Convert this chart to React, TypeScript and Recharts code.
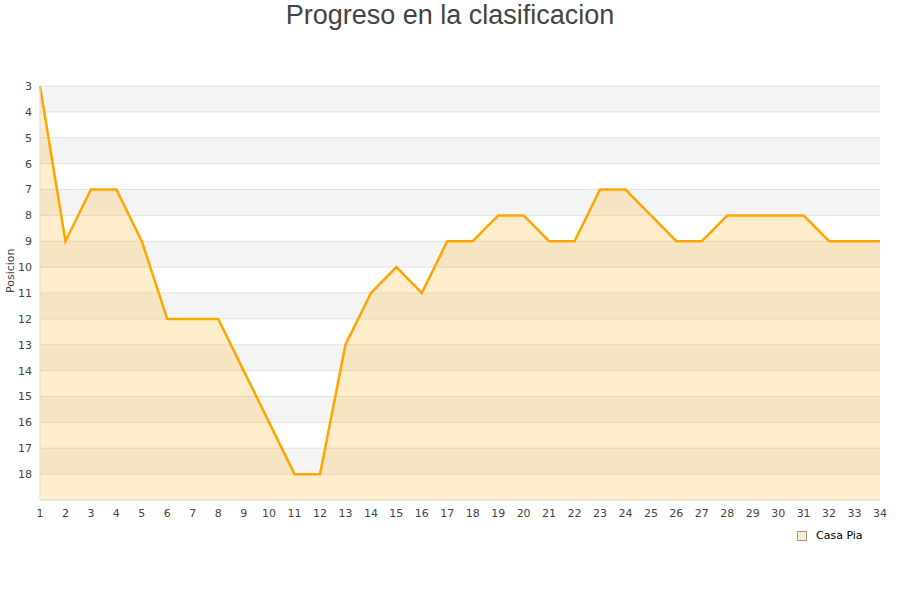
import React from 'react'
import { AreaChart, Area, XAxis, YAxis, CartesianGrid } from 'recharts'

// Posición por jornada
const jornadas = [
  1, 2, 3, 4, 5, 6, 7, 8, 9, 10, 11, 12, 13, 14, 15, 16, 17,
  18, 19, 20, 21, 22, 23, 24, 25, 26, 27, 28, 29, 30, 31, 32, 33, 34,
]
const casaPia = [
  3, 9, 7, 7, 9, 12, 12, 12, 14, 16, 18, 18, 13, 11, 10, 11, 9,
  9, 8, 8, 9, 9, 7, 7, 8, 9, 9, 8, 8, 8, 8, 9, 9, 9,
]
const posTicks = [3, 4, 5, 6, 7, 8, 9, 10, 11, 12, 13, 14, 15, 16, 17, 18]

const data = jornadas.map((j, i) => ({ jornada: j, pos: casaPia[i] }))

const ORANGE = '#ffa500'
const TEXT = '#444'

export default function App() {
  return (
    <div style={{ position: 'absolute', left: 0, top: 0, width: 900, height: 600, background: '#fff', fontFamily: 'DejaVu Sans, sans-serif' }}>
      <div
        style={{
          position: 'absolute', left: 0, top: 0, width: 900, textAlign: 'center',
          fontFamily: '"Liberation Sans", Arial, sans-serif', fontSize: 27, color: TEXT, lineHeight: '30px',
        }}
      >
        Progreso en la clasificacion
      </div>
      <AreaChart width={900} height={600} data={data} margin={{ top: 86, right: 20, bottom: 70, left: 0 }}>
        {/* franjas alternas gris/blanco */}
        <CartesianGrid vertical={false} stroke="#e2e2e2" horizontalFill={['#f4f4f4', '#ffffff']} fillOpacity={1} />
        <XAxis
          dataKey="jornada" type="number" domain={[1, 34]} ticks={jornadas} interval={0} height={30}
          tickLine={false} axisLine={{ stroke: '#ddd' }}
          tick={{ fontSize: 11, fill: TEXT }} tickMargin={3}
        />
        <YAxis
          type="number" domain={[3, 19]} reversed ticks={posTicks} interval={0} width={40}
          tickLine={false} axisLine={{ stroke: '#ddd' }}
          tick={{ fontSize: 11, fill: TEXT }} tickMargin={2}
          label={{ value: 'Posicion', angle: -90, position: 'insideLeft', offset: 10, fontSize: 11, fill: TEXT }}
        />
        <YAxis yAxisId="right" orientation="right" width={0} tick={false} axisLine={{ stroke: '#ddd' }} />
        <Area
          type="linear" dataKey="pos" name="Casa Pia" baseValue={19}
          stroke={ORANGE} strokeWidth={2.5} fill={ORANGE} fillOpacity={0.2}
          dot={false} activeDot={false} isAnimationActive={false}
        />
      </AreaChart>
      <div style={{ position: 'absolute', left: 797, top: 529, display: 'flex', alignItems: 'center', fontSize: 11, color: '#000', lineHeight: '14px' }}>
        <span style={{ display: 'inline-block', width: 8, height: 8, background: '#ffedcc', border: '1px solid #999', marginRight: 9 }} />
        Casa Pia
      </div>
    </div>
  )
}
